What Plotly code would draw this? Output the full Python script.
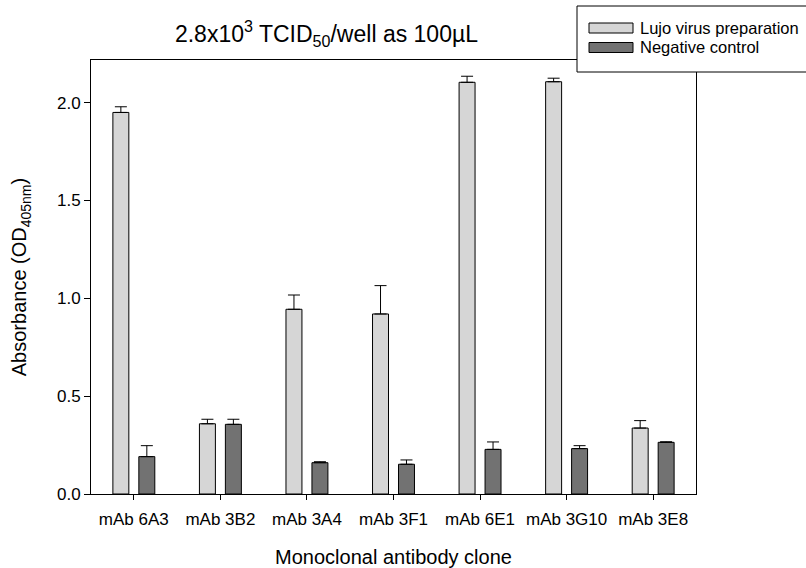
import plotly.graph_objects as go

clones = ["mAb 6A3", "mAb 3B2", "mAb 3A4", "mAb 3F1", "mAb 6E1", "mAb 3G10", "mAb 3E8"]
lujo_values = [1.95, 0.359, 0.944, 0.92, 2.104, 2.107, 0.337]
lujo_errors = [0.029, 0.023, 0.073, 0.145, 0.031, 0.018, 0.038]
neg_values = [0.191, 0.356, 0.16, 0.152, 0.228, 0.232, 0.264]
neg_errors = [0.056, 0.026, 0.005, 0.022, 0.038, 0.015, 0.003]
series_names = ["Lujo virus preparation", "Negative control"]

FONT = "Liberation Sans, Arial, sans-serif"
LIGHT = "#d6d6d6"
DARK = "#727272"

W, H = 806, 568
L, R, T, B = 91, 110, 60, 74
PW, PH = W - L - R, H - T - B


def px(xp):
    return (xp - L) / PW


def py(yp):
    return (H - B - yp) / PH


fig = go.Figure()
for name, vals, errs, col in [(series_names[0], lujo_values, lujo_errors, LIGHT),
                              (series_names[1], neg_values, neg_errors, DARK)]:
    fig.add_trace(go.Bar(
        x=clones, y=vals, name=name, showlegend=False,
        marker=dict(color=col, line=dict(color="black", width=1)),
        error_y=dict(type="data", array=errs, arrayminus=[0] * len(errs),
                     symmetric=False, color="black", thickness=1, width=6),
    ))

shapes = [dict(type="rect", xref="paper", yref="paper",
               x0=px(577), x1=px(815), y0=py(72), y1=py(6),
               line=dict(color="black", width=1), fillcolor="white", layer="above")]
annotations = []
for i, (name, col) in enumerate(zip(series_names, [LIGHT, DARK])):
    yc = 28 + i * 19.5
    shapes.append(dict(type="rect", xref="paper", yref="paper",
                       x0=px(589), x1=px(633), y0=py(yc + 5), y1=py(yc - 5),
                       line=dict(color="black", width=1), fillcolor=col, layer="above"))
    annotations.append(dict(text=name, xref="paper", yref="paper",
                            x=px(638), y=py(yc), xanchor="left", yanchor="middle",
                            showarrow=False, font=dict(size=16.5, family=FONT, color="black")))

fig.update_layout(
    width=W, height=H,
    margin=dict(l=L, r=R, t=T, b=B, autoexpand=False),
    paper_bgcolor="white", plot_bgcolor="white",
    font=dict(family=FONT, color="black", size=17),
    barmode="group", bargap=0.4, bargroupgap=0.385,
    showlegend=False,
    title=dict(text="2.8x10<sup>3</sup> TCID<sub>50</sub>/well as 100µL",
               x=478 / W, xanchor="right", xref="container",
               y=1 - 34 / H, yanchor="middle", yref="container",
               font=dict(size=23, family=FONT)),
    xaxis=dict(
        title=dict(text="Monoclonal antibody clone", font=dict(size=20), standoff=24),
        range=[-0.495, 6.495], showline=True, linecolor="black", linewidth=1,
        mirror=True, ticks="outside", ticklen=5, tickcolor="black",
        ticklabelstandoff=5,
        tickfont=dict(size=17), showgrid=False, zeroline=False,
    ),
    yaxis=dict(
        title=dict(text="Absorbance (OD<sub>405nm</sub>)", font=dict(size=20), standoff=24),
        range=[0, 2.218], tickvals=[0, 0.5, 1.0, 1.5, 2.0], tickformat=".1f",
        showline=True, linecolor="black", linewidth=1, mirror=True,
        ticks="outside", ticklen=6, tickcolor="black",
        tickfont=dict(size=17), showgrid=False, zeroline=False,
    ),
    shapes=shapes,
    annotations=annotations,
)

fig.write_html("out.html", config={"displayModeBar": False},
               post_script="document.body.style.margin='0';")
